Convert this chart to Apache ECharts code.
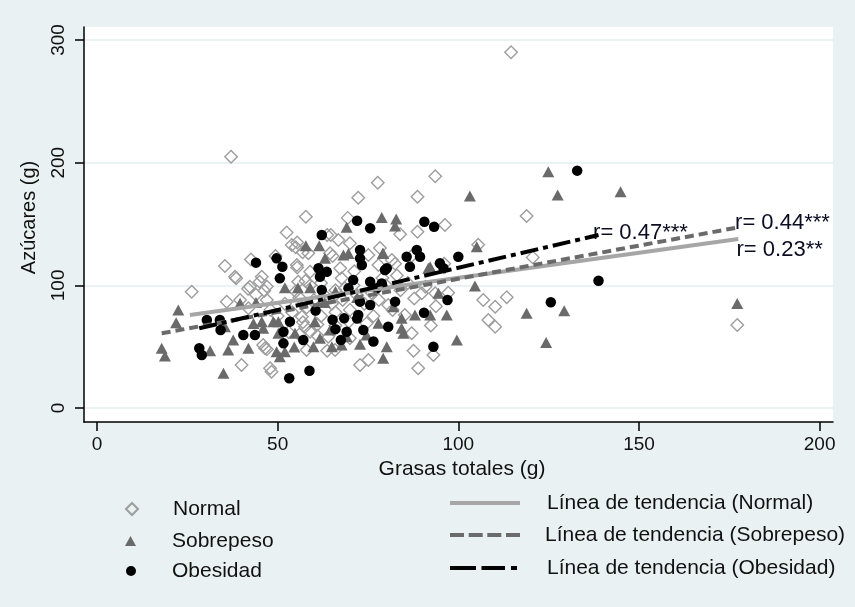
<!DOCTYPE html>
<html><head><meta charset="utf-8">
<script src="https://cdn.jsdelivr.net/npm/echarts@6/dist/echarts.min.js"></script>
<style>html,body{margin:0;padding:0;background:#eaf1f3}#c{width:855px;height:607px}</style>
</head><body><div id="c"></div><script>
// ---- data ----
const xTicks = [0, 50, 100, 150, 200];
const yTicks = [0, 100, 200, 300];

const normalPts = [
[37.1,204.9],[57.8,156],[52.5,143],[69.4,155],[64.7,141],[55,131],[42.6,121],[35.4,115.8],[38.5,105.7],[26.2,94.8],
[35.9,86.7],[40,35],[46.5,48.7],[47.9,32.4],[48.3,29.6],[65.9,47.3],[93.6,189],[77.7,183.7],[72.3,171.4],[88.7,172.2],
[118.9,156.5],[83.9,141.6],[96.3,149.2],[88.7,143.7],[81.6,120.6],[105.5,133],[97.2,94],[106.9,88],[110.2,82.6],[113.4,90.2],
[108.3,71.7],[110.2,66.3],[87.1,60.9],[72.8,35],[75.1,39.1],[87.6,46.7],[93.1,43.2],[88.9,32.4],[70,56.8],[120.6,122.8],
[114.6,290],[177.2,67.7],[38.2,107],[45.6,107],[42.3,98.9],[55.7,103],[55.3,116.6],[53.9,132.9],[58.5,126.1],[59,111.1],
[64.5,126.1],[45,103],[47,99],[75.1,124.7],[77.9,116.6],[67.3,113.9],[67.7,105.7],[68.6,97.6],[70,134.3],[66.8,137],
[41.9,81.3],[56.7,74.4],[57.6,66.3],[59,62.2],[46,51.4],[58,47.3],[56,60],[61,59],[80.6,84],[85.2,75.8],
[74.6,69],[93.6,93.5],[89.9,93.5],[47,48],[55.4,135],[56.9,127],[63.7,141],[65.2,124],[82.5,117.7],[87.8,89.3],
[90.9,98.8],[92.4,67.2],[81.8,79.9],[76.5,75],[69.7,70.4],[66,67.2],[63.7,46.6],[44,92.4],[46.3,95.6],[41.8,97.2],
[49.4,124],[55.4,114.6],[57.7,103.5],[71.2,111.4],[78.3,130.4],[87.1,124],[96.1,117.7],[93.8,83],[39.6,88],
[52,85],[54,78],[56,90],[58,82],[60,88],[62,75],[63,92],[65,85],[66,78],[68,88],[70,80],[72,92],[74,85],[55,95],
[59,100],[61,68],[64,58],[57,70],[53,62],[50,75],[48,80],[47,88],[62,102],[66,96],[71,100],[76,94],[78,88],[80,100],
[84,96],[86,102],[83,108],[79,106]
];

const sobrePts = [
[17.9,48.7],[18.8,42.4],[22.5,79.9],[21.9,69.6],[31.3,46.7],[35.4,66.3],[35,28.3],[36.3,47.3],[37.7,55.4],[41.9,48.7],
[45.6,70.4],[50.2,70.4],[50.6,41.8],[59.9,50],[65,50],[57.8,132.3],[61.5,132.3],[63.1,122],[68.2,124.7],[69.1,147.3],
[78.8,155.4],[82.8,154],[82.5,148.4],[79.1,126.1],[91.7,113.9],[105.1,131.5],[104.6,99.5],[103.2,172.8],[94.5,93.5],[118.9,77.2],
[88,75.8],[92.2,75.8],[96.8,75.8],[77.9,69],[84.3,65],[84.8,60.9],[67.7,51.4],[80.2,50],[79.2,40.5],[99.6,55.4],
[124.9,192.6],[127.5,173.6],[144.9,176.3],[129.3,79.3],[124.3,53.5],[177.2,85.3],[82,82.6],[52,98],[55.6,98],[59,98],
[92.2,115.2],[69.6,126],[79.2,126],[84.3,73.1],[74.6,59.5],[69.1,58.1],[46,65],[48.8,70.4],[50.2,60.9],[54.8,60.9],
[60.3,70.4],[61.7,56.8],[64.5,63.6],[49.7,45.9],[52,45.9],[39.6,85.4],[44,86],[54.6,49.7],[72.8,52],[43.3,68.8],
[66,95],[72,90],[63,86]
];

const obesPts = [
[28.3,48.7],[29,43.2],[30.4,71.7],[34,71.7],[34.2,63.6],[40.5,59.5],[43.7,59.5],[44,118.5],[49.7,122],[51.3,115.2],
[50.6,105.7],[53.2,24.2],[58.8,30.4],[51.6,62.2],[51.6,52.7],[53.4,70.4],[57.1,55.4],[60.5,79.5],[61.3,113.9],[63.6,111],
[61.7,107],[62.2,96.2],[62.2,141],[66,64.3],[69.1,62.2],[67.5,55.4],[68.4,73.1],[73.7,63.6],[72.3,75.8],[72.8,86.7],
[75.6,84],[76.5,54.2],[80.6,66.3],[82.5,86.7],[90.5,77.6],[93.1,50],[97,88],[72,152.7],[75.6,146.5],[90.6,151.9],
[93.3,147.8],[72.8,128.8],[72.8,122],[73.3,116.6],[85.7,123.3],[88.5,128.8],[89.4,123.3],[86.6,115.2],[79.7,112.5],[70.9,104.3],
[75.6,103],[69.6,97.6],[77.4,97.6],[78.8,101.6],[94.9,118],[95.9,113.9],[100,123.3],[80.2,113.9],[125.6,86.2],[132.9,193.5],
[138.8,103.8],[65.2,71.9],[72,72.9]
];

const trendNormal = [[25.7,75.8],[177.5,137.8]];
const trendSobre  = [[17.9,60.9],[177.0,147.0]];
const trendObes   = [[28.3,65.0],[138.8,141.0]];

const annotX    = [137.3, 176.6, 177.0];
const annotY    = [142.6, 150.6, 128.8];
const annotText = ['r= 0.47***', 'r= 0.44***', 'r= 0.23**'];

const names = ['Normal','Sobrepeso','Obesidad',
  'Línea de tendencia (Normal)','Línea de tendencia (Sobrepeso)','Línea de tendencia (Obesidad)'];

// ---- chart ----
const FONT = '"Liberation Sans", Arial, sans-serif';
const chart = echarts.init(document.getElementById('c'), null, {renderer:'canvas'});

function legendItem(name, left, centerY, icon, w, h, padLeft) {
  return {
    data:[{name:name, icon:icon}], left:left, top:centerY-12, padding:0,
    itemWidth:w, itemHeight:h, selectedMode:false,
    textStyle:{fontSize:21, color:'#111', fontFamily:FONT, lineHeight:24, padding:[0,0,0,padLeft]}
  };
}

const option = {
  backgroundColor:'#eaf1f3',
  animation:false,
  grid:{left:84, right:22, top:27, bottom:185, show:true, backgroundColor:'#ffffff', borderWidth:0},
  xAxis:{
    type:'value', min:-3.6, max:203.7,
    name:'Grasas totales (g)', nameLocation:'middle', nameGap:36,
    nameTextStyle:{fontSize:21, color:'#111', fontFamily:FONT, padding:[0,0,0,7]},
    axisLine:{onZero:false, lineStyle:{color:'#000', width:1.5}},
    axisTick:{customValues:xTicks, length:9, lineStyle:{color:'#000', width:1.5}},
    axisLabel:{customValues:xTicks, fontSize:19, color:'#111', margin:13, fontFamily:FONT},
    splitLine:{show:false}
  },
  yAxis:{
    type:'value', min:-11.4, max:310.6,
    name:'Azúcares (g)', nameLocation:'middle', nameGap:45, nameRotate:90,
    nameTextStyle:{fontSize:20, color:'#111', fontFamily:FONT, padding:[0,0,0,14]},
    axisLine:{onZero:false, lineStyle:{color:'#000', width:1.5}},
    axisTick:{customValues:yTicks, length:9, lineStyle:{color:'#000', width:1.5}},
    axisLabel:{customValues:yTicks, rotate:90, fontSize:19, color:'#111', margin:16, fontFamily:FONT},
    splitLine:{show:true, lineStyle:{color:'#e4eef1', width:1.5}}
  },
  legend:[
    legendItem(names[0], 125, 509, 'diamond', 12, 12, 30),
    legendItem(names[1], 125, 541, 'triangle', 11, 10, 31),
    legendItem(names[2], 126, 571, 'circle', 10, 10, 31),
    legendItem(names[3], 450, 503, 'path://M0,0h70v4h-70z', 70, 4, 22),
    legendItem(names[4], 450, 535, 'path://M0,0h14v4h-14z M18.7,0h14v4h-14z M37.3,0h14v4h-14z M56,0h14v4h-14z', 70, 4, 20),
    legendItem(names[5], 450, 568, 'path://M0,0h26v4h-26z M31.5,0h23.5v4h-23.5z M61,0h6v4h-6z', 67, 4, 25)
  ],
  series:[
    {name:names[0], type:'scatter', data:normalPts, symbol:'diamond', symbolSize:12.5,
     itemStyle:{color:'rgba(0,0,0,0)', borderColor:'#9d9d9d', borderWidth:1.4, opacity:1}},
    {name:names[1], type:'scatter', data:sobrePts, symbol:'triangle', symbolSize:[12,11],
     itemStyle:{color:'#6a6a6a', opacity:1}},
    {name:names[2], type:'scatter', data:obesPts, symbol:'circle', symbolSize:10.5,
     itemStyle:{color:'#000', opacity:1}},
    {name:names[3], type:'line', data:trendNormal, symbol:'none', showSymbol:false,
     color:'#a6a6a6', lineStyle:{color:'#a6a6a6', width:4}},
    {name:names[4], type:'line', data:trendSobre, symbol:'none', showSymbol:false,
     color:'#6a6a6a', lineStyle:{color:'#6a6a6a', width:4, type:[9,5], cap:'butt'}},
    {name:names[5], type:'line', data:trendObes, symbol:'none', showSymbol:false,
     color:'#000', lineStyle:{color:'#000', width:4, type:[18,5,5,5], cap:'butt'}},
    {name:'anot', type:'scatter', symbolSize:0, silent:true,
     itemStyle:{opacity:1},
     data:annotText.map((t,i)=>({name:t, value:[annotX[i], annotY[i]]})),
     label:{show:true, position:'right', distance:0, formatter:'{b}', fontSize:22, color:'#0c0c22', fontFamily:FONT, opacity:1}}
  ]
};
chart.setOption(option);
</script></body></html>
